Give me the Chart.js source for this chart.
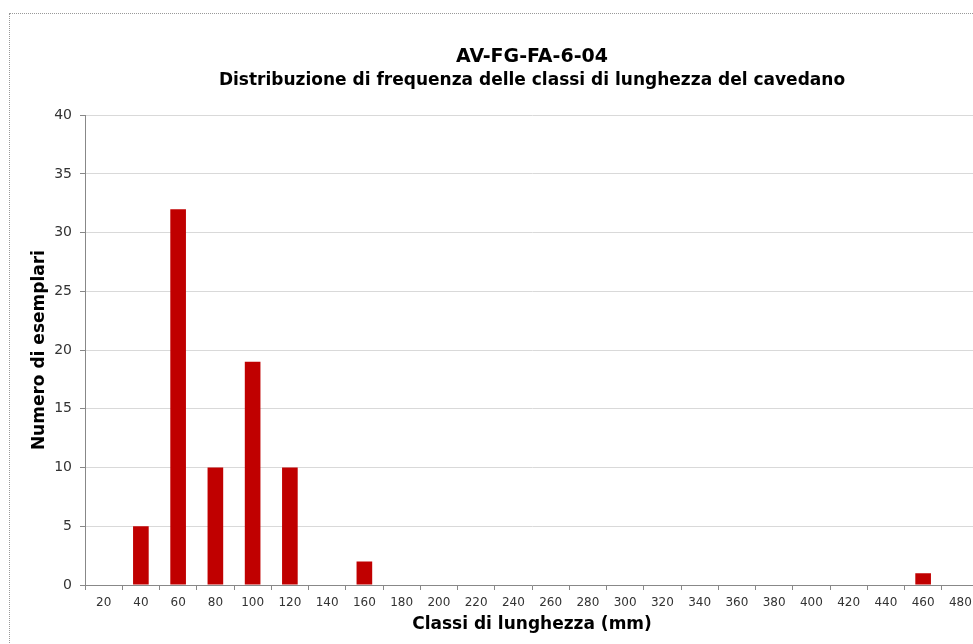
<!DOCTYPE html>
<html>
<head>
<meta charset="utf-8">
<script src="https://cdn.jsdelivr.net/npm/chart.js@4"></script>
<style>
  body { margin: 0; overflow: hidden; background: #fff; }
  #box { position: absolute; left: 9px; top: 13px; width: 1056px; height: 650px; border: 1px dotted #999; }
</style>
</head>
<body>
<div id="box"><canvas id="myChart" width="1056" height="650"></canvas></div>
<script>
const classes = ['20', '40', '60', '80', '100', '120', '140', '160', '180', '200', '220', '240',
    '260', '280', '300', '320', '340', '360', '380', '400', '420', '440', '460', '480'];
const counts = [0, 5, 32, 10, 19, 10, 0, 2, 0, 0, 0, 0,
    0, 0, 0, 0, 0, 0, 0, 0, 0, 0, 1, 0];
const yTicks = [0, 5, 10, 15, 20, 25, 30, 35, 40];

const font = 'DejaVu Sans';
const ctx = document.getElementById('myChart').getContext('2d');
const myChart = new Chart(ctx, {
    type: 'bar',
    data: {
        labels: classes,
        datasets: [{
            label: 'Numero di esemplari',
            data: counts,
            backgroundColor: '#c00000',
            barPercentage: 0.42,
            categoryPercentage: 1
        }]
    },
    options: {
        responsive: false,
        animation: false,
        layout: { padding: { top: 32, right: 87, left: 0, bottom: 31 } },
        plugins: {
            legend: { display: false },
            tooltip: { enabled: false },
            title: {
                display: true,
                fullSize: false,
                text: 'AV-FG-FA-6-04',
                color: '#000',
                font: { family: font, size: 19, weight: 'bold' },
                padding: { top: 0, bottom: 2 }
            },
            subtitle: {
                display: true,
                fullSize: false,
                text: 'Distribuzione di frequenza delle classi di lunghezza del cavedano',
                color: '#000',
                font: { family: font, size: 17, weight: 'bold' },
                padding: { top: 0, bottom: 24 }
            }
        },
        scales: {
            x: {
                grid: { display: true, drawOnChartArea: false, offset: true, tickLength: 5, color: '#888' },
                border: { color: '#888' },
                ticks: { color: '#333', font: { family: font, size: 12, lineHeight: 1 }, maxRotation: 0, autoSkip: false, padding: 7 },
                title: { display: true, text: 'Classi di lunghezza (mm)', color: '#000',
                    font: { family: font, size: 17, weight: 'bold', lineHeight: 1 }, padding: { top: 0, bottom: 0 } }
            },
            y: {
                min: 0,
                max: 40,
                afterBuildTicks: s => { s.ticks = yTicks.map(v => ({ value: v })); },
                afterFit: s => { s.width = 75; },
                grid: { color: '#d9d9d9', tickColor: '#888', tickLength: 5 },
                border: { color: '#888' },
                ticks: { color: '#333', font: { family: font, size: 14 }, padding: 8 },
                title: { display: true, text: 'Numero di esemplari', color: '#000',
                    font: { family: font, size: 17, weight: 'bold' }, padding: { top: 19, bottom: 0 } }
            }
        }
    }
});
</script>
</body>
</html>
